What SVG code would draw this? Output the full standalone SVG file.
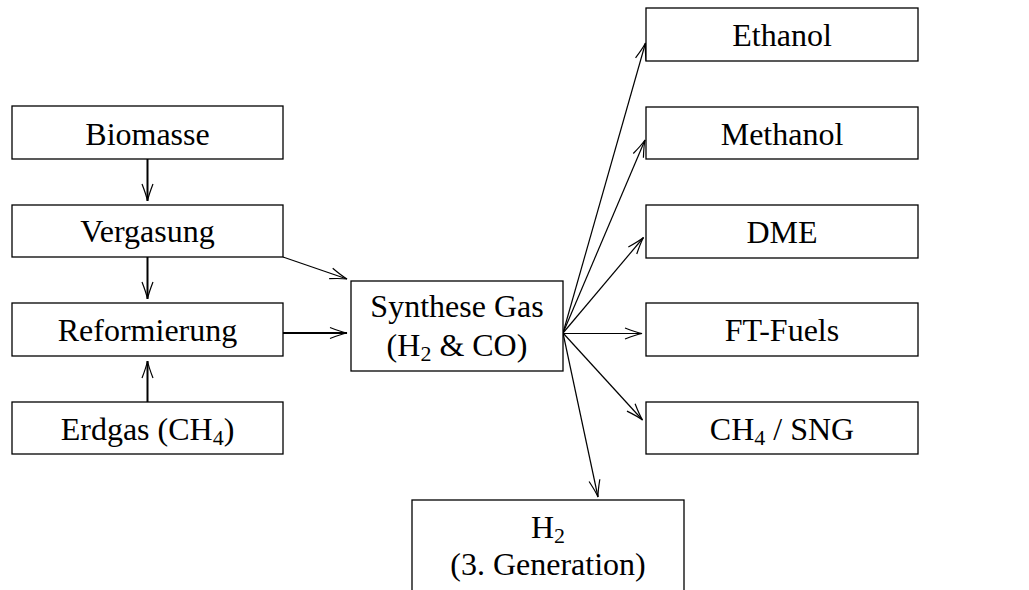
<svg xmlns="http://www.w3.org/2000/svg" width="1029" height="590" viewBox="0 0 1029 590">
<style>
.box{fill:#fff;stroke:#000;stroke-width:1.3}
.t{font-family:'Liberation Serif','DejaVu Serif',serif;font-size:32px;fill:#000;text-anchor:middle}
.sub{font-size:22px}
.c{fill:none;stroke:#000;stroke-width:1.2}
.ck{fill:none;stroke:#000;stroke-width:2}
</style>
<defs>
<marker id="ah" markerUnits="userSpaceOnUse" markerWidth="24" markerHeight="16" refX="0" refY="0" viewBox="-20 -8 24 16" orient="auto" overflow="visible">
<path d="M-17,-5.5 Q-6,-1.2 0,0 Q-6,1.2 -17,5.5" fill="none" stroke="#000" stroke-width="1.2"/>
</marker>
</defs>
<rect width="1029" height="590" fill="#fff"/>
<g id="connectors">
<line class="ck" x1="147.5" y1="159" x2="147.5" y2="201" marker-end="url(#ah)"/>
<line class="ck" x1="147.5" y1="257" x2="147.5" y2="299" marker-end="url(#ah)"/>
<line class="ck" x1="147.5" y1="402" x2="147.5" y2="361" marker-end="url(#ah)"/>
<line class="ck" x1="283" y1="333" x2="347" y2="333" marker-end="url(#ah)"/>
<line class="c" x1="283" y1="257" x2="347" y2="279" marker-end="url(#ah)"/>
<line class="c" x1="563" y1="333" x2="645.5" y2="43" marker-end="url(#ah)"/>
<line class="c" x1="563" y1="333" x2="645" y2="140" marker-end="url(#ah)"/>
<line class="c" x1="563" y1="333" x2="643.5" y2="237.5" marker-end="url(#ah)"/>
<line class="c" x1="563" y1="333.5" x2="642" y2="333.5" marker-end="url(#ah)"/>
<line class="c" x1="563" y1="333" x2="642.5" y2="420" marker-end="url(#ah)"/>
<line class="c" x1="563" y1="333" x2="598" y2="497" marker-end="url(#ah)"/>
</g>
<g id="biomasse"><rect class="box" x="12" y="106" width="271" height="53"/><text class="t" x="147.5" y="145">Biomasse</text></g>
<g id="vergasung"><rect class="box" x="12" y="205" width="271" height="52"/><text class="t" x="147.5" y="242">Vergasung</text></g>
<g id="reformierung"><rect class="box" x="12" y="303" width="271" height="53"/><text class="t" x="147.5" y="341">Reformierung</text></g>
<g id="erdgas"><rect class="box" x="12" y="402" width="271" height="52"/><text class="t" x="147.5" y="440">Erdgas (CH<tspan class="sub" dy="5">4</tspan><tspan dy="-5">)</tspan></text></g>
<g id="synthese"><rect class="box" x="351" y="281" width="212" height="90"/><text class="t" x="457" y="317">Synthese Gas</text><text class="t" x="457" y="356">(H<tspan class="sub" dy="5">2</tspan><tspan dy="-5"> &amp; CO)</tspan></text></g>
<g id="ethanol"><rect class="box" x="646" y="8" width="272" height="53"/><text class="t" x="782" y="46">Ethanol</text></g>
<g id="methanol"><rect class="box" x="646" y="107" width="272" height="52"/><text class="t" x="782" y="145">Methanol</text></g>
<g id="dme"><rect class="box" x="646" y="205" width="272" height="53"/><text class="t" x="782" y="243">DME</text></g>
<g id="ftfuels"><rect class="box" x="646" y="303" width="272" height="53"/><text class="t" x="782" y="341">FT-Fuels</text></g>
<g id="ch4sng"><rect class="box" x="646" y="402" width="272" height="52"/><text class="t" x="782" y="440">CH<tspan class="sub" dy="5">4</tspan><tspan dy="-5"> / SNG</tspan></text></g>
<g id="h2"><rect class="box" x="412" y="500" width="272" height="110"/><text class="t" x="548" y="538">H<tspan class="sub" dy="5">2</tspan></text><text class="t" x="548" y="575">(3. Generation)</text></g>
</svg>
